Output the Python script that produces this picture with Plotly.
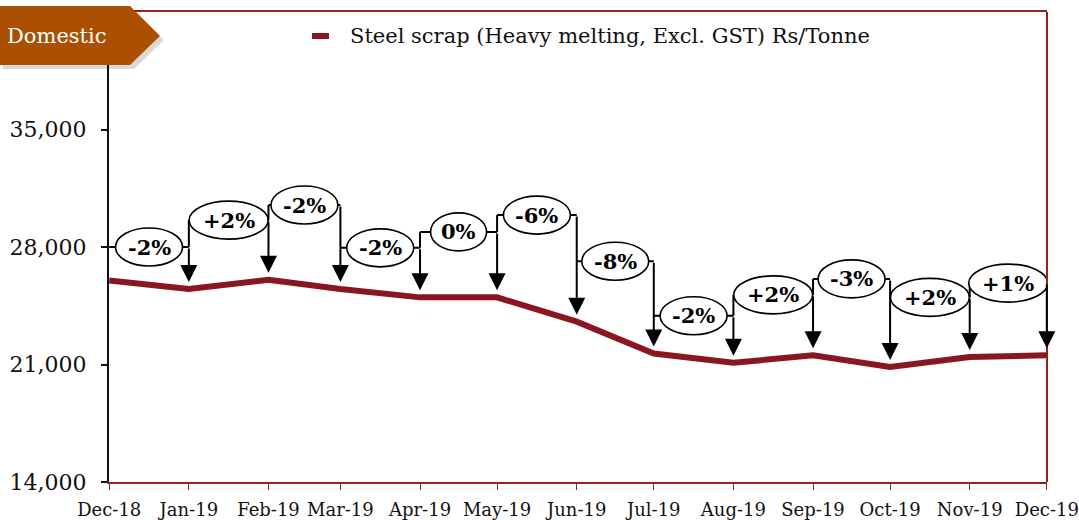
import plotly.graph_objects as go
import pandas as pd

# ---- data ----
months = ["2018-12-01", "2019-01-01", "2019-02-01", "2019-03-01", "2019-04-01",
          "2019-05-01", "2019-06-01", "2019-07-01", "2019-08-01", "2019-09-01",
          "2019-10-01", "2019-11-01", "2019-12-01"]
prices = [26000, 25500, 26050, 25500, 25000, 25000, 23550, 21650, 21100,
          21550, 20850, 21450, 21550]
pct_labels = ["-2%", "+2%", "-2%", "-2%", "0%", "-6%", "-8%", "-2%", "+2%",
              "-3%", "+2%", "+1%"]
# heights (in Rs/Tonne) of the bracket callouts
callout_levels = [28000, 29600, 30500, 27950, 28900, 29900, 27150, 23900,
                  25150, 26100, 25000, 25850]
y_ticks = [14000, 21000, 28000, 35000]
y_tick_text = ["14,000", "21,000", "28,000", "35,000"]
series_name = "Steel scrap (Heavy melting, Excl. GST) Rs/Tonne"

LINE_COLOR = "#8B1520"
BORDER = "#8E2424"
BADGE = "#AB5002"
SERIF = "DejaVu Serif"

dates = pd.to_datetime(months)
pad = pd.Timedelta(hours=2)

fig = go.Figure()
fig.add_trace(go.Scatter(
    x=dates, y=prices, mode="lines", name=series_name,
    line=dict(color=LINE_COLOR, width=6), showlegend=False, hoverinfo="skip",
))

shapes = []
annotations = []

char_w = {"+": 23, "-": 11, "%": 25}
for i, lab in enumerate(pct_labels):
    d0, d1 = dates[i], dates[i + 1]
    mid = d0 + (d1 - d0) / 2
    h = callout_levels[i]
    # horizontal bracket
    shapes.append(dict(type="line", xref="x", yref="y", x0=d0, x1=d1, y0=h, y1=h,
                       line=dict(color="black", width=2), layer="above"))
    # left vertical riser when this bracket sits above the previous one
    if i > 0 and h > callout_levels[i - 1]:
        shapes.append(dict(type="line", xref="x", yref="y", x0=d0, x1=d0,
                           y0=h, y1=callout_levels[i - 1],
                           line=dict(color="black", width=2), layer="above"))
    # ellipse
    w = 14 + sum(char_w.get(c, 17) for c in lab)
    shapes.append(dict(type="circle", xref="x", yref="y", xsizemode="pixel",
                       ysizemode="pixel", xanchor=mid, yanchor=h,
                       x0=-w / 2, x1=w / 2, y0=-19, y1=19,
                       fillcolor="white", line=dict(color="black", width=1.6),
                       layer="above"))
    annotations.append(dict(x=mid, y=h, xref="x", yref="y", text="<b>%s</b>" % lab,
                            showarrow=False, font=dict(family=SERIF, size=21, color="black")))
    # arrow down to next point
    annotations.append(dict(x=d1, y=prices[i + 1], xref="x", yref="y",
                            ax=d1, ay=h, axref="x", ayref="y", text="",
                            showarrow=True, arrowhead=2, arrowsize=1.7,
                            arrowwidth=2, arrowcolor="black", standoff=7))

# right border
shapes.append(dict(type="line", xref="paper", yref="paper", x0=1, x1=1, y0=0, y1=1,
                   line=dict(color=BORDER, width=2), layer="above"))

# "Domestic" badge (shadow + body), pixel-sized relative to plot top-left
badge_path = "M-109,6 L21,6 L51,-24 L21,-53 L-109,-53 Z"
shadow_path = "M-106,2 L25,2 L55,-28 L25,-57 L-106,-57 Z"
shapes.append(dict(type="path", xref="paper", yref="paper", xsizemode="pixel",
                   ysizemode="pixel", xanchor=0, yanchor=1, path=shadow_path,
                   fillcolor="rgba(0,0,0,0.15)", line=dict(width=0), layer="above"))
shapes.append(dict(type="path", xref="paper", yref="paper", xsizemode="pixel",
                   ysizemode="pixel", xanchor=0, yanchor=1, path=badge_path,
                   fillcolor=BADGE, line=dict(width=0), layer="above"))
annotations.append(dict(x=-52 / 938, y=1, xref="paper", yref="paper", yshift=-24,
                        text="Domestic", showarrow=False, xanchor="center", yanchor="middle",
                        font=dict(family=SERIF, size=21, color="white")))

# manual legend
shapes.append(dict(type="line", xref="paper", yref="paper", xsizemode="pixel",
                   ysizemode="pixel", xanchor=0, yanchor=1,
                   x0=203, x1=220, y0=-24, y1=-24,
                   line=dict(color=LINE_COLOR, width=6), layer="above"))
annotations.append(dict(x=239 / 938, y=1, xref="paper", yref="paper", yshift=-24,
                        text=series_name, showarrow=False, xanchor="left", yanchor="middle",
                        font=dict(family=SERIF, size=21, color="#111111")))

fig.update_layout(
    width=1079, height=520,
    margin=dict(l=109, r=32, t=12, b=38, autoexpand=False),
    paper_bgcolor="white", plot_bgcolor="white",
    shapes=shapes, annotations=annotations,
    font=dict(family=SERIF, color="#111111"),
    xaxis=dict(
        type="date", range=[dates[0] - pad, dates[-1] + pad],
        tickvals=dates, tickformat="%b-%y",
        showgrid=False, zeroline=False, automargin=False,
        showline=True, linecolor=BORDER, linewidth=2, mirror=True,
        ticks="outside", ticklen=6, tickwidth=1, tickcolor=BORDER,
        ticklabelstandoff=4, ticklabeloverflow="allow",
        tickfont=dict(family=SERIF, size=18, color="#111111"),
    ),
    yaxis=dict(
        range=[14000, 42000], tickvals=y_ticks, ticktext=y_tick_text,
        showgrid=False, zeroline=False, automargin=False,
        showline=True, linecolor="#111111", linewidth=2,
        ticks="outside", ticklen=6, tickwidth=1.5, tickcolor="#111111",
        ticklabelstandoff=10, ticklabeloverflow="allow",
        tickfont=dict(family=SERIF, size=22, color="#111111"),
    ),
)

fig.write_html("out.html", config={"displayModeBar": False},
               post_script="document.body.style.margin='0';document.body.style.overflow='hidden';")
